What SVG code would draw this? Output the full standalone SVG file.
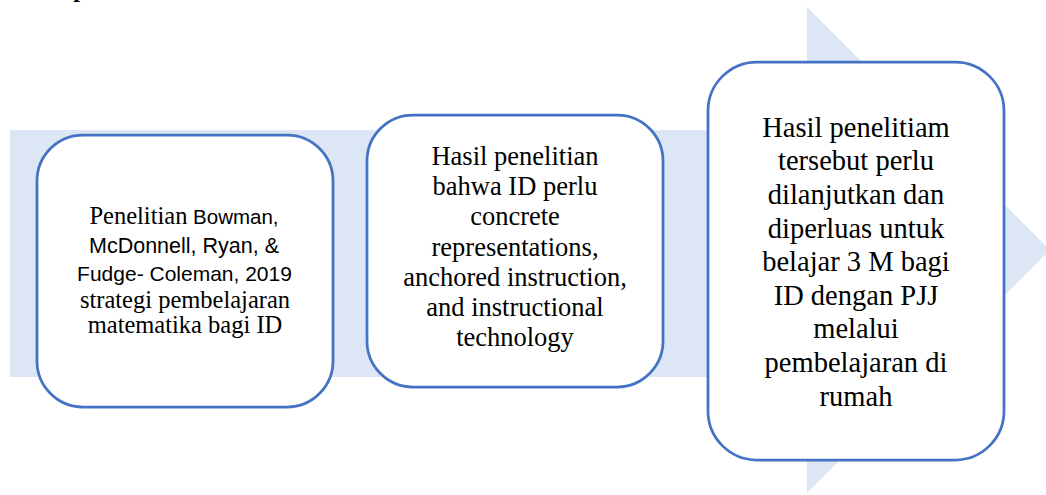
<svg xmlns="http://www.w3.org/2000/svg" width="1046" height="495" viewBox="0 0 1046 495">
<style>
.box{fill:#ffffff;stroke:#4472C4;stroke-width:2.75}
.serif{font-family:"Liberation Serif","Times New Roman",serif;fill:#000;text-anchor:middle}
.sans{font-family:"Liberation Sans",Arial,sans-serif;fill:#000}
</style>
<rect width="1046" height="495" fill="#ffffff"/>
<text x="80" y="-3" font-family="Liberation Serif, serif" font-weight="bold" font-size="24" text-anchor="middle" fill="#000">p</text>
<g id="background-arrow">
<polygon points="10,130 807,130 807,7 1050,250 807,493 807,377 10,377" fill="#DCE6F4"/>
</g>
<g id="connectors"></g>
<g id="node1">
<rect class="box" x="37" y="135" width="296" height="272" rx="46" ry="46"/>
<text class="serif" font-size="24.5" x="184" y="224.3"><tspan>Penelitian</tspan><tspan class="sans" font-size="20.5"> Bowman,</tspan></text>
<text class="sans" font-size="21.5" x="184" y="252.5" text-anchor="middle">McDonnell, Ryan, &amp;</text>
<text class="sans" font-size="21" x="184.5" y="281" text-anchor="middle">Fudge- Coleman, 2019</text>
<text class="serif" font-size="24.5" x="185" y="307.5">strategi pembelajaran</text>
<text class="serif" font-size="24.5" x="185" y="332.7">matematika bagi ID</text>
</g>
<g id="node2">
<rect class="box" x="367" y="115" width="296" height="272" rx="46" ry="46"/>
<g class="serif" font-size="26.5">
<text x="515" y="164.5">Hasil penelitian</text>
<text x="515" y="194.5">bahwa ID perlu</text>
<text x="515" y="225">concrete</text>
<text x="515" y="255.5">representations,</text>
<text x="515" y="286">anchored instruction,</text>
<text x="515" y="316">and instructional</text>
<text x="515" y="346">technology</text>
</g>
</g>
<g id="node3">
<rect class="box" x="708" y="62" width="296" height="398" rx="49" ry="49"/>
<g class="serif" font-size="28.5">
<text x="856" y="136.7">Hasil penelitiam</text>
<text x="856" y="170.3">tersebut perlu</text>
<text x="856" y="203.9">dilanjutkan dan</text>
<text x="856" y="237.5">diperluas untuk</text>
<text x="856" y="271.1">belajar 3 M bagi</text>
<text x="856" y="304.7">ID dengan PJJ</text>
<text x="856" y="338.3">melalui</text>
<text x="856" y="371.9">pembelajaran di</text>
<text x="856" y="405.5">rumah</text>
</g>
</g>
</svg>
